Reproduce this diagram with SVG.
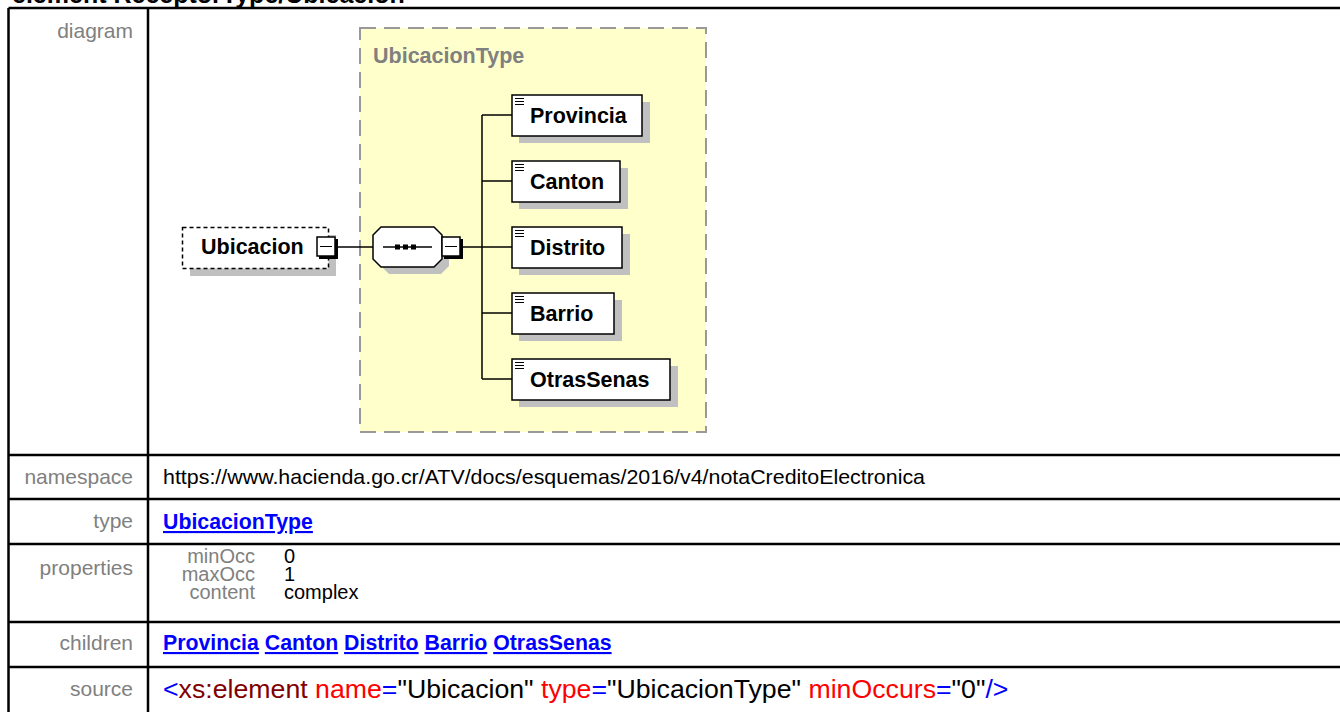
<svg xmlns="http://www.w3.org/2000/svg" width="1340" height="712" viewBox="0 0 1340 712">
<style>
.grid{stroke:#000;stroke-width:2.5;fill:none}
.lbl{font-family:"Liberation Sans",Arial,sans-serif;font-size:21px;fill:#808080;text-anchor:end}
.plbl{font-family:"Liberation Sans",Arial,sans-serif;font-size:20px;fill:#808080;text-anchor:end}
.val{font-family:"Liberation Sans",Arial,sans-serif;font-size:21px;fill:#000}
.pval{font-family:"Liberation Sans",Arial,sans-serif;font-size:20px;fill:#000}
.link{font-family:"Liberation Sans",Arial,sans-serif;font-size:21.3px;font-weight:bold;fill:#0000FF;text-decoration:underline}
.src{font-family:"Liberation Sans",Arial,sans-serif;font-size:26.7px}
.node{fill:#fff;stroke:#000;stroke-width:1.5}
.shadow{fill:#C0C0C0}
.ntext{font-family:"Liberation Sans",Arial,sans-serif;font-size:21.5px;font-weight:bold;fill:#000}
.icon{stroke:#000;stroke-width:1}
.conn{stroke:#000;stroke-width:1.5;fill:none}
.mbox{fill:#fff;stroke:#000;stroke-width:1.5}
.mshadow{fill:#000}
</style>
<rect width="1340" height="712" fill="#fff"/>
<text x="12" y="3" font-family="Liberation Sans,Arial,sans-serif" font-size="25" font-weight="bold" fill="#000">element ReceptorType/Ubicacion</text>
<g id="table">
<line class="grid" x1="8.5" y1="8" x2="1340" y2="8"/>
<line class="grid" x1="8.5" y1="8" x2="8.5" y2="712"/>
<line class="grid" x1="148" y1="8" x2="148" y2="712"/>
<line class="grid" x1="8.5" y1="455" x2="1340" y2="455"/>
<line class="grid" x1="8.5" y1="499" x2="1340" y2="499"/>
<line class="grid" x1="8.5" y1="544" x2="1340" y2="544"/>
<line class="grid" x1="8.5" y1="622" x2="1340" y2="622"/>
<line class="grid" x1="8.5" y1="667" x2="1340" y2="667"/>
<text class="lbl" x="133" y="38">diagram</text>
<text class="lbl" x="133" y="484">namespace</text>
<text class="lbl" x="133" y="528">type</text>
<text class="lbl" x="133" y="575">properties</text>
<text class="lbl" x="133" y="650">children</text>
<text class="lbl" x="133" y="696">source</text>
<text class="val" x="163" y="484" textLength="762" lengthAdjust="spacingAndGlyphs">https://www.hacienda.go.cr/ATV/docs/esquemas/2016/v4/notaCreditoElectronica</text>
<text class="link" x="163" y="529">UbicacionType</text>
<text class="plbl" x="255" y="563">minOcc</text>
<text class="pval" x="284" y="563">0</text>
<text class="plbl" x="255" y="581">maxOcc</text>
<text class="pval" x="284" y="581">1</text>
<text class="plbl" x="255" y="599">content</text>
<text class="pval" x="284" y="599">complex</text>
<text x="163" y="650" font-family="Liberation Sans,Arial,sans-serif" font-size="21.3" font-weight="bold" fill="#0000FF"><tspan class="link">Provincia</tspan> <tspan class="link">Canton</tspan> <tspan class="link">Distrito</tspan> <tspan class="link">Barrio</tspan> <tspan class="link">OtrasSenas</tspan></text>
<text class="src" x="163" y="698"><tspan fill="#0000FF">&lt;</tspan><tspan fill="#800000">xs:element</tspan> <tspan fill="#FF0000">name</tspan><tspan fill="#0000FF">=</tspan><tspan fill="#000">"Ubicacion"</tspan> <tspan fill="#FF0000">type</tspan><tspan fill="#0000FF">=</tspan><tspan fill="#000">"UbicacionType"</tspan> <tspan fill="#FF0000">minOccurs</tspan><tspan fill="#0000FF">=</tspan><tspan fill="#000">"0"</tspan><tspan fill="#0000FF">/&gt;</tspan></text>
</g>
<g id="type-UbicacionType">
<rect x="360" y="28" width="346" height="404" fill="#FFFFCC" stroke="#999" stroke-width="2" stroke-dasharray="16 8"/>
<text x="373" y="63" font-family="Liberation Sans,Arial,sans-serif" font-size="21.5" font-weight="bold" fill="#808080">UbicacionType</text>
</g>
<g id="connectors">
<line class="conn" x1="337" y1="247" x2="373" y2="247"/>
<line class="conn" x1="462" y1="247" x2="482" y2="247"/>
<line class="conn" x1="482" y1="115" x2="482" y2="379"/>
<line class="conn" x1="482" y1="115" x2="512" y2="115"/>
<line class="conn" x1="482" y1="181" x2="512" y2="181"/>
<line class="conn" x1="482" y1="247" x2="512" y2="247"/>
<line class="conn" x1="482" y1="313" x2="512" y2="313"/>
<line class="conn" x1="482" y1="379" x2="512" y2="379"/>
</g>
<g id="node-Ubicacion">
<rect class="shadow" x="190" y="235" width="146" height="41"/>
<rect x="182.5" y="227.5" width="146" height="41" fill="#fff" stroke="#000" stroke-width="1.5" stroke-dasharray="4 3"/>
<text class="ntext" x="201" y="254">Ubicacion</text>
<rect class="mshadow" x="319" y="239" width="19" height="20"/>
<rect class="mbox" x="317" y="237" width="18" height="19"/>
<line class="icon" x1="320" y1="246.5" x2="332" y2="246.5" stroke-width="1.5"/>
</g>
<g id="node-sequence">
<polygon class="shadow" points="389,234 441,234 449,242 449,266 441,274 389,274 381,266 381,242"/>
<polygon class="node" points="381,227 434,227 442,235 442,259 434,267 381,267 373,259 373,235"/>
<line class="conn" x1="383" y1="247" x2="432" y2="247"/>
<rect x="395" y="244.5" width="5" height="5" fill="#000"/>
<rect x="403" y="244.5" width="5" height="5" fill="#000"/>
<rect x="411" y="244.5" width="5" height="5" fill="#000"/>
<rect class="mshadow" x="444" y="239" width="19" height="20"/>
<rect class="mbox" x="442" y="237" width="18" height="19"/>
<line class="icon" x1="445" y1="246.5" x2="457" y2="246.5" stroke-width="1.5"/>
</g>
<g id="node-Provincia">
<rect class="shadow" x="519" y="102" width="131" height="41"/>
<rect class="node" x="512" y="95" width="130" height="41"/>
<path class="icon" d="M515 98.5h9M515 101.5h9M515 104.5h9"/>
<text class="ntext" x="530" y="123">Provincia</text>
</g>
<g id="node-Canton">
<rect class="shadow" x="519" y="168" width="109" height="41"/>
<rect class="node" x="512" y="161" width="108" height="41"/>
<path class="icon" d="M515 164.5h9M515 167.5h9M515 170.5h9"/>
<text class="ntext" x="530" y="189">Canton</text>
</g>
<g id="node-Distrito">
<rect class="shadow" x="519" y="234" width="111" height="41"/>
<rect class="node" x="512" y="227" width="110" height="41"/>
<path class="icon" d="M515 230.5h9M515 233.5h9M515 236.5h9"/>
<text class="ntext" x="530" y="255">Distrito</text>
</g>
<g id="node-Barrio">
<rect class="shadow" x="519" y="300" width="103" height="41"/>
<rect class="node" x="512" y="293" width="102" height="41"/>
<path class="icon" d="M515 296.5h9M515 299.5h9M515 302.5h9"/>
<text class="ntext" x="530" y="321">Barrio</text>
</g>
<g id="node-OtrasSenas">
<rect class="shadow" x="519" y="366" width="159" height="41"/>
<rect class="node" x="512" y="359" width="158" height="41"/>
<path class="icon" d="M515 362.5h9M515 365.5h9M515 368.5h9"/>
<text class="ntext" x="530" y="387">OtrasSenas</text>
</g>
</svg>
